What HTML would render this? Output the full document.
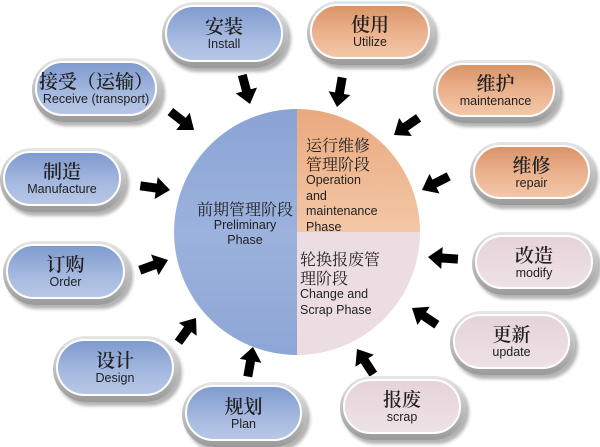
<!DOCTYPE html>
<html><head><meta charset="utf-8"><style>
body{margin:0;width:600px;height:447px;background:#fff;position:relative;overflow:hidden;font-family:"Liberation Sans","Noto Sans CJK SC",sans-serif}
.p{position:absolute;border-radius:999px;background:linear-gradient(#e6e6e6,#9a9a9a);box-shadow:3px 4px 3px rgba(0,0,0,.3)}
.p .in{position:absolute;left:3px;top:3px;right:5px;bottom:6px;border-radius:999px;border:2px solid #fff;box-sizing:border-box;display:flex;flex-direction:column;align-items:center;justify-content:center;color:#222}
.b .in{background:linear-gradient(#7f9ace,#a6bae0 60%,#b8c7e6)}
.o .in{background:linear-gradient(#d99468,#eab18c 50%,#f3c7a8)}
.k .in{background:linear-gradient(#e6d3da,#eee2e6)}
.c{font-family:"Noto Serif CJK SC","Liberation Serif",serif;font-size:19px;line-height:22px;font-weight:600}
.e{font-size:12.5px;line-height:15px}
.t{position:absolute;color:#222}
.t .c{font-size:16px;line-height:19px;font-weight:normal}
</style></head><body>
<svg width="600" height="447" style="position:absolute;left:0;top:0">
<defs><linearGradient id="bl" x1="0" y1="0" x2="0" y2="1"><stop offset="0" stop-color="#8aa3d5"/><stop offset=".5" stop-color="#9cb2dd"/><stop offset="1" stop-color="#8ea6d6"/></linearGradient>
<linearGradient id="or" x1="0" y1="0" x2="0" y2="1"><stop offset="0" stop-color="#eaa97f"/><stop offset="1" stop-color="#f3c7a6"/></linearGradient></defs>
<path d="M297,109 A123,123 0 0 0 297,355 Z" fill="url(#bl)"/>
<path d="M297,109 A123,123 0 0 1 420,232 L297,232 Z" fill="url(#or)"/>
<path d="M297,232 L420,232 A123,123 0 0 1 297,355 Z" fill="#ecdde2"/>
<g fill="#000">
<polygon points="0,0 -14,-11 -14,-4.5 -30,-4.5 -30,4.5 -14,4.5 -14,11" transform="translate(250,104) rotate(75)"/>
<polygon points="0,0 -14,-11 -14,-4.5 -30,-4.5 -30,4.5 -14,4.5 -14,11" transform="translate(194,130) rotate(38)"/>
<polygon points="0,0 -14,-11 -14,-4.5 -30,-4.5 -30,4.5 -14,4.5 -14,11" transform="translate(170,190) rotate(8)"/>
<polygon points="0,0 -14,-11 -14,-4.5 -30,-4.5 -30,4.5 -14,4.5 -14,11" transform="translate(168,260) rotate(-20)"/>
<polygon points="0,0 -14,-11 -14,-4.5 -30,-4.5 -30,4.5 -14,4.5 -14,11" transform="translate(196,318) rotate(-54)"/>
<polygon points="0,0 -14,-11 -14,-4.5 -30,-4.5 -30,4.5 -14,4.5 -14,11" transform="translate(253,347) rotate(-80)"/>
<polygon points="0,0 -14,-11 -14,-4.5 -30,-4.5 -30,4.5 -14,4.5 -14,11" transform="translate(337,107) rotate(100)"/>
<polygon points="0,0 -14,-11 -14,-4.5 -30,-4.5 -30,4.5 -14,4.5 -14,11" transform="translate(394,135) rotate(145)"/>
<polygon points="0,0 -14,-11 -14,-4.5 -30,-4.5 -30,4.5 -14,4.5 -14,11" transform="translate(422,190) rotate(153)"/>
<polygon points="0,0 -14,-11 -14,-4.5 -30,-4.5 -30,4.5 -14,4.5 -14,11" transform="translate(428,257) rotate(184)"/>
<polygon points="0,0 -14,-11 -14,-4.5 -30,-4.5 -30,4.5 -14,4.5 -14,11" transform="translate(412,308) rotate(214)"/>
<polygon points="0,0 -14,-11 -14,-4.5 -30,-4.5 -30,4.5 -14,4.5 -14,11" transform="translate(357,349) rotate(237)"/>
</g></svg>

<div class="t" style="left:190px;top:199px;width:110px;text-align:center"><div class="c">前期管理阶段</div><div class="e">Preliminary<br>Phase</div></div>
<div class="t" style="left:306px;top:135px"><div class="c">运行维修<br>管理阶段</div><div class="e" style="line-height:15.5px">Operation<br>and<br>maintenance<br>Phase</div></div>
<div class="t" style="left:300px;top:249px"><div class="c">轮换报废管<br>理阶段</div><div class="e" style="line-height:15.5px">Change and<br>Scrap Phase</div></div>

<div class="p b" style="left:162px;top:2px;width:126px;height:66px"><div class="in"><div class="c">安装</div><div class="e">Install</div></div></div>
<div class="p b" style="left:32px;top:58px;width:130px;height:64px"><div class="in"><div class="c">接受（运输）</div><div class="e">Receive (transport)</div></div></div>
<div class="p b" style="left:0px;top:148px;width:126px;height:64px"><div class="in"><div class="c">制造</div><div class="e">Manufacture</div></div></div>
<div class="p b" style="left:3px;top:241px;width:127px;height:64px"><div class="in"><div class="c">订购</div><div class="e">Order</div></div></div>
<div class="p b" style="left:53px;top:336px;width:126px;height:66px"><div class="in"><div class="c">设计</div><div class="e">Design</div></div></div>
<div class="p b" style="left:182px;top:382px;width:125px;height:65px"><div class="in"><div class="c">规划</div><div class="e">Plan</div></div></div>
<div class="p o" style="left:307px;top:1px;width:128px;height:64px"><div class="in"><div class="c">使用</div><div class="e">Utilize</div></div></div>
<div class="p o" style="left:433px;top:60px;width:127px;height:63px"><div class="in"><div class="c">维护</div><div class="e">maintenance</div></div></div>
<div class="p o" style="left:470px;top:142px;width:125px;height:63px"><div class="in"><div class="c">维修</div><div class="e">repair</div></div></div>
<div class="p k" style="left:472px;top:232px;width:126px;height:63px"><div class="in"><div class="c">改造</div><div class="e">modify</div></div></div>
<div class="p k" style="left:450px;top:311px;width:125px;height:64px"><div class="in"><div class="c">更新</div><div class="e">update</div></div></div>
<div class="p k" style="left:340px;top:376px;width:126px;height:64px"><div class="in"><div class="c">报废</div><div class="e">scrap</div></div></div>
</body></html>
